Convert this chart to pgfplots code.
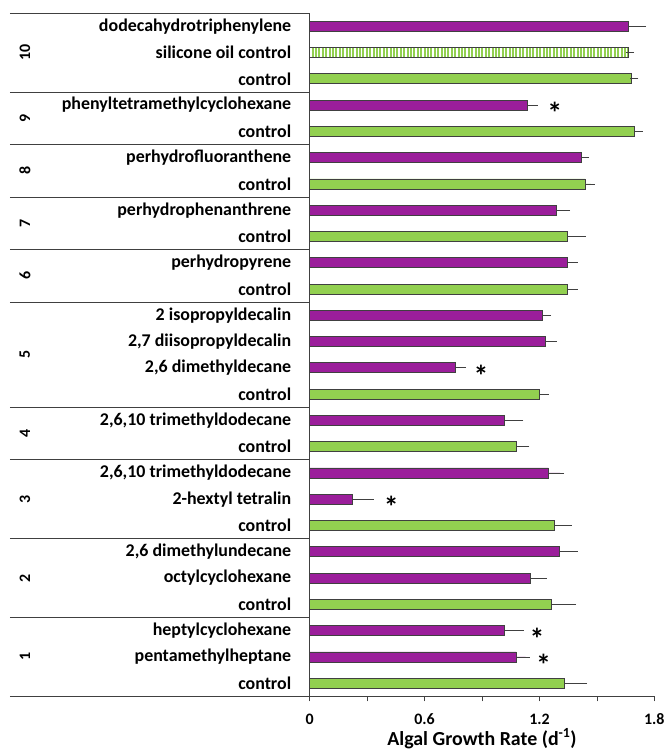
\documentclass[border=0pt]{standalone}
\usepackage{fontspec}
\setmainfont{Carlito}
\usepackage{pgfplots}
\pgfplotsset{compat=1.18}
\usetikzlibrary{patterns.meta}
\definecolor{barpurple}{RGB}{155,30,155}
\definecolor{bargreen}{RGB}{146,208,80}
\definecolor{edge}{RGB}{64,64,64}
\newcommand{\lbl}{\fontsize{18}{20}\selectfont\bfseries}
\newcommand{\grp}{\fontsize{16}{18}\selectfont\bfseries}
\tikzset{sigstar/.style={font=\fontsize{30}{30}\selectfont\bfseries, yshift=-8bp}}

\begin{document}
\begin{tikzpicture}
\begin{axis}[
  x=191.67bp, y=26.3bp,
  xmin=0, xmax=1.8, ymin=-0.5, ymax=25.5,
  axis x line=bottom, axis y line=left,
  axis line style={-, draw=edge, line width=0.8bp},
  xtick={0,0.3,0.6,0.9,1.2,1.5,1.8},
  xticklabels={0,,0.6,,1.2,,1.8},
  tick align=outside, major tick length=5bp,
  x tick style={draw=edge, line width=0.8bp},
  ytick={0,...,25}, y tick style={draw=none},
  yticklabels={control, pentamethylheptane, heptylcyclohexane,
    control, octylcyclohexane, {2,6 dimethylundecane},
    control, 2-hextyl tetralin, {2,6,10 trimethyldodecane},
    control, {2,6,10 trimethyldodecane},
    control, {2,6 dimethyldecane}, {2,7 diisopropyldecalin}, 2 isopropyldecalin,
    control, perhydropyrene,
    control, perhydrophenanthrene,
    control, perhydrofluoranthene,
    control, phenyltetramethylcyclohexane,
    control, silicone oil control, dodecahydrotriphenylene},
  yticklabel style={font=\lbl, xshift=-10bp},
  xticklabel style={font=\fontsize{16}{18}\selectfont\bfseries, yshift=-9bp},
  xlabel={Algal Growth Rate (d\textsuperscript{-1})},
  xlabel style={font=\fontsize{20}{22}\selectfont\bfseries,
    at={(axis description cs:0.5,0)}, anchor=base, yshift=-49bp},
  xbar, bar width=10bp, bar shift=0pt,
  clip=false,
  errs/.style={error bars/.cd, x dir=plus, x explicit,
    error bar style={draw=edge, line width=0.8bp},
    error mark options={draw=edge, line width=0.8bp, mark size=4bp}},
]
% treatments
\addplot[fill=barpurple, draw=edge, line width=0.8bp, errs] coordinates {
  (1.078,1) +- (0.050,0)
  (1.019,2) +- (0.078,0)
  (1.151,4) +- (0.066,0)
  (1.302,5) +- (0.077,0)
  (0.224,7) +- (0.090,0)
  (1.247,8) +- (0.061,0)
  (1.019,10) +- (0.076,0)
  (0.760,12) +- (0.036,0)
  (1.229,13) +- (0.040,0)
  (1.217,14) +- (0.023,0)
  (1.348,16) +- (0.031,0)
  (1.290,18) +- (0.049,0)
  (1.421,20) +- (0.017,0)
  (1.139,22) +- (0.030,0)
  (1.666,25) +- (0.070,0)
};
% controls
\addplot[fill=bargreen, draw=edge, line width=0.8bp, errs] coordinates {
  (1.332,0) +- (0.096,0)
  (1.261,3) +- (0.110,0)
  (1.278,6) +- (0.071,0)
  (1.078,9) +- (0.049,0)
  (1.198,11) +- (0.030,0)
  (1.348,15) +- (0.030,0)
  (1.348,17) +- (0.073,0)
  (1.438,19) +- (0.031,0)
  (1.695,21) +- (0.023,0)
  (1.678,23) +- (0.017,0)
};
% silicone oil control
\addplot[pattern={Lines[angle=90, distance=3.4bp, line width=2bp]}, pattern color=bargreen,
  draw=edge, line width=0.8bp, errs] coordinates {
  (1.666,24) +- (0.007,0)
};

% significance marks
\node[sigstar] at (axis cs:1.188,2) {*};
\node[sigstar] at (axis cs:1.222,1) {*};
\node[sigstar] at (axis cs:0.426,7) {*};
\node[sigstar] at (axis cs:0.895,12) {*};
\node[sigstar] at (axis cs:1.280,22) {*};

% group frame
\pgfplotsinvokeforeach{2.5,5.5,8.5,10.5,14.5,16.5,18.5,20.5,22.5,25.5,-0.5}{
  \draw[edge, line width=0.8bp] (axis cs:-1.565,#1) -- (axis cs:0,#1);
}
\node[rotate=90, font=\grp] at (axis cs:-1.487,1) {1};
\node[rotate=90, font=\grp] at (axis cs:-1.487,4) {2};
\node[rotate=90, font=\grp] at (axis cs:-1.487,7) {3};
\node[rotate=90, font=\grp] at (axis cs:-1.487,9.5) {4};
\node[rotate=90, font=\grp] at (axis cs:-1.487,12.5) {5};
\node[rotate=90, font=\grp] at (axis cs:-1.487,15.5) {6};
\node[rotate=90, font=\grp] at (axis cs:-1.487,17.5) {7};
\node[rotate=90, font=\grp] at (axis cs:-1.487,19.5) {8};
\node[rotate=90, font=\grp] at (axis cs:-1.487,21.5) {9};
\node[rotate=90, font=\grp] at (axis cs:-1.487,24) {10};

\path (axis cs:-1.617,26.0) rectangle (axis cs:1.852,-2.585);
\end{axis}
\end{tikzpicture}
\end{document}
